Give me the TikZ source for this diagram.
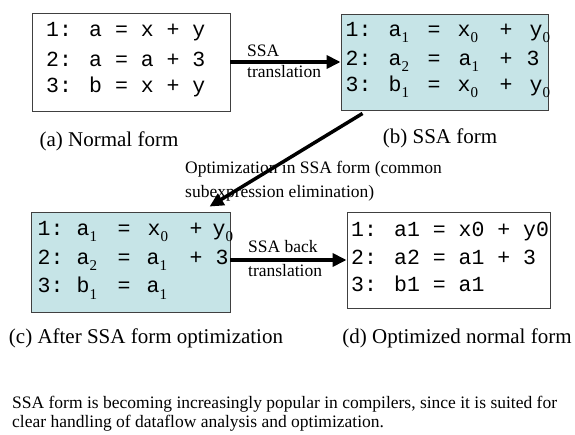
\documentclass[tikz,border=0pt]{standalone}
\usepackage{fontspec}
\setmainfont{Liberation Serif}
\newfontfamily\codefam{Liberation Mono}
\newfontfamily\subfam{Liberation Serif}
\usetikzlibrary{arrows.meta,calc}
\definecolor{ssafill}{RGB}{198,228,231}
\newcommand\tok[2]{\makebox[0pt][l]{\hspace*{#1pt}#2}}
\newcommand\sbx[1]{\raisebox{-6pt}{\subfam\fontsize{15}{15}\selectfont #1}}
\tikzset{
  codebox/.style={draw=black!75, line width=0.9pt, rectangle, inner sep=0pt},
  ssabox/.style={codebox, fill=ssafill},
  codeline/.style={anchor=base west, inner sep=0pt, font=\codefam\fontsize{21.5}{21.5}\selectfont},
  caption/.style={anchor=base, inner sep=0pt, font=\fontsize{21}{21}\selectfont},
  small/.style={anchor=base west, inner sep=0pt, font=\fontsize{17.5}{17.5}\selectfont},
  bigarrow/.style={line width=3.5pt, -{Triangle[length=14pt,width=13pt]}}
}
\begin{document}
\begin{tikzpicture}[x=1pt,y=1pt]
\useasboundingbox (0,0) rectangle (575,-435);
% boxes
\node[codebox, minimum width=198pt, minimum height=98pt] (boxA) at (131,-62) {};
\node[ssabox, minimum width=207pt, minimum height=96pt] (boxB) at (444.5,-62) {};
\node[ssabox, minimum width=199pt, minimum height=100pt] (boxC) at (130.5,-262) {};
\node[codebox, minimum width=203pt, minimum height=96pt] (boxD) at (448.5,-260) {};
% box a text
\node[codeline] (a1) at (46,-37) {1: a = x + y};
\node[codeline] (a2) at (46,-67) {2: a = a + 3};
\node[codeline] (a3) at (46,-93) {3: b = x + y};
% box b text
\node[codeline] (b1) at (345,-37) {\tok{0}{1:}\tok{43}{a\sbx{1}}\tok{82}{=}\tok{112}{x\sbx{0}}\tok{154}{+}\tok{184}{y\sbx{0}}};
\node[codeline] (b2) at (345,-66) {\tok{0}{2:}\tok{43}{a\sbx{2}}\tok{82}{=}\tok{113}{a\sbx{1}}\tok{154}{+}\tok{181}{3}};
\node[codeline] (b3) at (345,-92) {\tok{0}{3:}\tok{43}{b\sbx{1}}\tok{82}{=}\tok{112}{x\sbx{0}}\tok{154}{+}\tok{184}{y\sbx{0}}};
% box c text
\node[codeline] (c1) at (37,-236) {\tok{0}{1:}\tok{39}{a\sbx{1}}\tok{80}{=}\tok{110}{x\sbx{0}}\tok{152}{+}\tok{175}{y\sbx{0}}};
\node[codeline] (c2) at (37,-265) {\tok{0}{2:}\tok{39}{a\sbx{2}}\tok{80}{=}\tok{109}{a\sbx{1}}\tok{152}{+}\tok{178}{3}};
\node[codeline] (c3) at (37,-293) {\tok{0}{3:}\tok{39}{b\sbx{1}}\tok{80}{=}\tok{109}{a\sbx{1}}};
% box d text
\node[codeline] (d1) at (351,-237) {1: a1 = x0 + y0};
\node[codeline] (d2) at (351,-265) {2: a2 = a1 + 3};
\node[codeline] (d3) at (351,-292) {3: b1 = a1};
% captions
\node[caption] (capA) at (109,-147) {(a) Normal form};
\node[caption] (capB) at (440,-144) {(b) SSA form};
\node[caption] (capC) at (146,-343) {(c) After SSA form optimization};
\node[caption] (capD) at (457,-343) {(d) Optimized normal form};
% arrow labels
\node[small] (l1a) at (247,-57) {SSA};
\node[small] (l1b) at (247,-78) {translation};
\node[small] (l2a) at (248,-253) {SSA back};
\node[small] (l2b) at (248,-277) {translation};
\node[small] (opt1) at (185,-174) {Optimization in SSA form (common};
\node[small] (opt2) at (185,-198) {subexpression elimination)};
% bottom text
\node[small] (note1) at (12,-408) {SSA form is becoming increasingly popular in compilers, since it is suited for};
\node[small] (note2) at (12,-427) {clear handling of dataflow analysis and optimization.};
% arrows
\draw[bigarrow] (boxA.east) -- (boxB.west);
\draw[bigarrow] (boxC.east |- boxD.west) -- (boxD.west);
\coordinate (dstart) at ($(boxB.south west)+(22,-3)$);
\coordinate (dend) at ($(boxC.north west)+(179,5)$);
\draw[bigarrow] (dstart) -- (dend);
\end{tikzpicture}
\end{document}
